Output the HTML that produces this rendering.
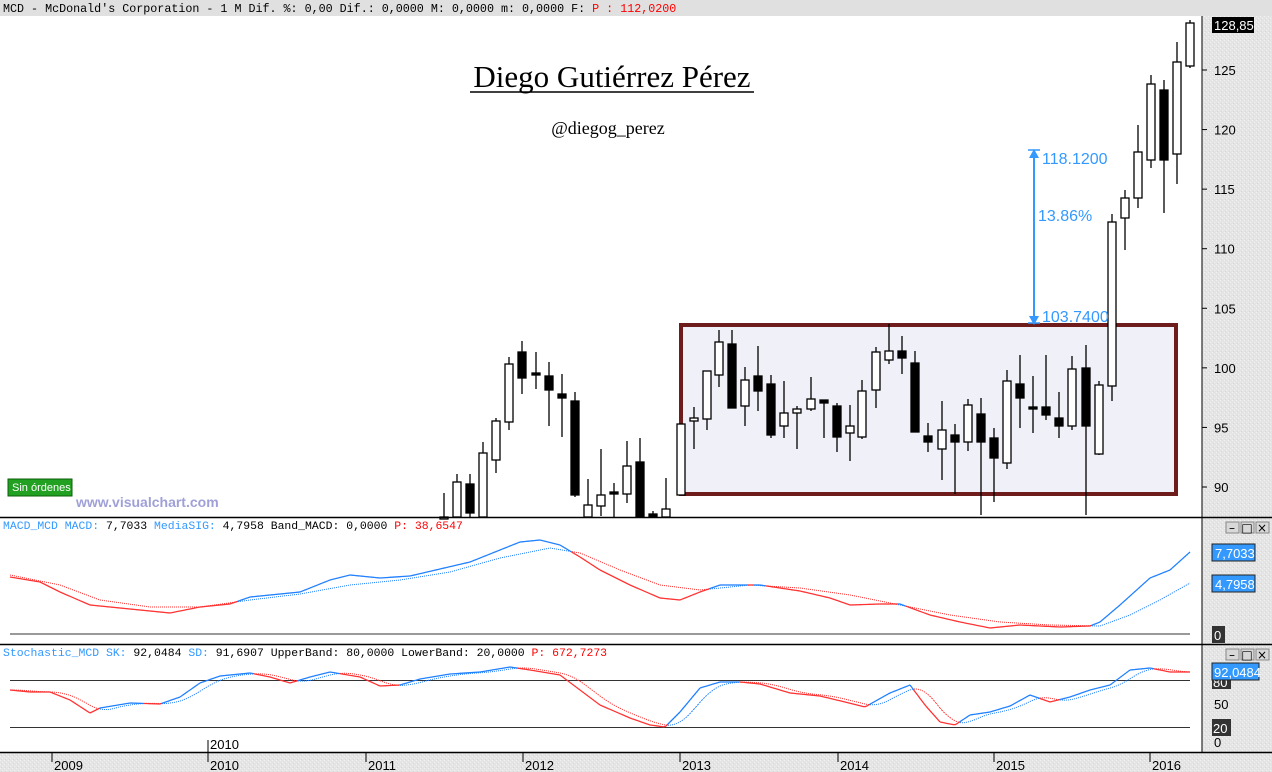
<!DOCTYPE html>
<html><head><meta charset="utf-8"><style>
html,body{margin:0;padding:0;background:#fff;}
svg{display:block;font-family:"Liberation Mono",monospace;}
</style></head><body>
<svg id="s" width="1272" height="772" xmlns="http://www.w3.org/2000/svg">
<defs>
<pattern id="noise" width="4" height="4" patternUnits="userSpaceOnUse"><rect width="4" height="4" fill="#e4e4e4"/><rect width="1" height="1" x="0" y="0" fill="#f2f2f2"/><rect width="1" height="1" x="2" y="2" fill="#f2f2f2"/><rect width="1" height="1" x="1" y="3" fill="#d8d8d8"/></pattern>
</defs>
<rect x="0" y="0" width="1272" height="16" fill="#e0e0e0"/>
<text x="3" y="12" font-size="11.7" fill="#000">MCD - McDonald's Corporation -  1 M Dif. %: 0,00 Dif.: 0,0000 M: 0,0000 m: 0,0000 F:  <tspan fill="#ff0000">P : 112,0200</tspan></text>
<rect x="1202" y="16" width="70" height="736" fill="url(#noise)"/>
<rect x="0" y="752" width="1272" height="20" fill="url(#noise)"/>
<rect x="681" y="325" width="495" height="169" fill="#eff0f8" stroke="#6e1c1c" stroke-width="4"/>
<g id="candles" stroke="#000" stroke-width="1.3"></g>
<text x="612" y="87" font-family="Liberation Serif,serif" font-size="31" text-anchor="middle">Diego Gutiérrez Pérez</text>
<line x1="470" y1="92" x2="754" y2="92" stroke="#000" stroke-width="1.5"/>
<text x="608" y="134" font-family="Liberation Serif,serif" font-size="18" text-anchor="middle">@diegog_perez</text>
<g stroke="#3399ff" fill="#3399ff" stroke-width="2">
<line x1="1034" y1="152" x2="1034" y2="322"/>
<path d="M1029,158 L1034,149 L1039,158 Z" stroke="none"/>
<path d="M1029,316 L1034,325 L1039,316 Z" stroke="none"/>
<line x1="1028" y1="150" x2="1040" y2="150" stroke-width="1.5"/>
<line x1="1028" y1="323" x2="1040" y2="323" stroke-width="1.5"/>
</g>
<g font-family="Liberation Sans,sans-serif" font-size="16" fill="#3399ff">
<text x="1042" y="164">118.1200</text>
<text x="1038" y="221">13.86%</text>
<text x="1042" y="322">103.7400</text>
</g>
<rect x="8" y="479" width="64" height="17" fill="#22a022" stroke="#0a600a"/>
<text x="12" y="491" font-family="Liberation Sans,sans-serif" font-size="11" fill="#fff">Sin órdenes</text>
<text x="76" y="507" font-family="Liberation Sans,sans-serif" font-size="14" font-weight="bold" fill="#a0a0d8">www.visualchart.com</text>
<line x1="1202" y1="16" x2="1202" y2="752" stroke="#000"/>
<g id="pax" font-family="Liberation Sans,sans-serif" font-size="13" fill="#000"></g>
<rect x="1212" y="17" width="42" height="16" fill="#000"/>
<text x="1214" y="30" font-family="Liberation Sans,sans-serif" font-size="13" fill="#fff">128,85</text>
<line x1="0" y1="517.5" x2="1272" y2="517.5" stroke="#000" stroke-width="1.5"/>
<line x1="0" y1="644.5" x2="1272" y2="644.5" stroke="#000" stroke-width="1.5"/>
<line x1="0" y1="752.5" x2="1272" y2="752.5" stroke="#000" stroke-width="1.5"/>
<text x="3" y="529" font-size="11.45" fill="#3399ff">MACD_MCD MACD: <tspan fill="#000">7,7033</tspan> MediaSIG: <tspan fill="#000">4,7958 Band_MACD: 0,0000</tspan> <tspan fill="#ff0000">P: 38,6547</tspan></text>
<line x1="10" y1="634" x2="1190" y2="634" stroke="#333"/>
<g id="macd" fill="none"></g>
<rect x="1212" y="544" width="43" height="17" fill="#3399ff" stroke="#222"/>
<text x="1215" y="558" font-family="Liberation Sans,sans-serif" font-size="13" fill="#fff">7,7033</text>
<rect x="1212" y="575" width="43" height="17" fill="#3399ff" stroke="#222"/>
<text x="1215" y="589" font-family="Liberation Sans,sans-serif" font-size="13" fill="#fff">4,7958</text>
<rect x="1212" y="626" width="13" height="17" fill="#333"/>
<text x="1214" y="640" font-family="Liberation Sans,sans-serif" font-size="13" fill="#fff">0</text>
<text x="3" y="656" font-size="11.45" fill="#3399ff">Stochastic_MCD SK: <tspan fill="#000">92,0484</tspan> SD: <tspan fill="#000">91,6907 UpperBand: 80,0000 LowerBand: 20,0000</tspan> <tspan fill="#ff0000">P: 672,7273</tspan></text>
<line x1="10" y1="680.5" x2="1190" y2="680.5" stroke="#333"/>
<line x1="10" y1="727.5" x2="1190" y2="727.5" stroke="#333"/>
<g id="sto" fill="none"></g>
<rect x="1212" y="673" width="19" height="16" fill="#333"/>
<text x="1213" y="687" font-family="Liberation Sans,sans-serif" font-size="13" fill="#fff">80</text>
<text x="1214" y="709" font-family="Liberation Sans,sans-serif" font-size="13">50</text>
<rect x="1212" y="719" width="19" height="17" fill="#333"/>
<text x="1213" y="733" font-family="Liberation Sans,sans-serif" font-size="13" fill="#fff">20</text>
<text x="1214" y="747" font-family="Liberation Sans,sans-serif" font-size="13">0</text>
<rect x="1212" y="663" width="47" height="17" fill="#3399ff" stroke="#222"/>
<text x="1214" y="677" font-family="Liberation Sans,sans-serif" font-size="13" fill="#fff">92,0484</text>
<g id="tax" font-family="Liberation Sans,sans-serif" font-size="13"></g>
<line x1="208" y1="740" x2="208" y2="752" stroke="#000"/>
<text x="210" y="749" font-family="Liberation Sans,sans-serif" font-size="13">2010</text>
<g id="btn"></g>
</svg>
<script>
var NS="http://www.w3.org/2000/svg";
function el(p,t,a){var e=document.createElementNS(NS,t);for(var k in a)e.setAttribute(k,a[k]);document.getElementById(p).appendChild(e);return e;}
var C=[[444,517,517,493,517,0],[457,482,517,474,517,0],[470,484,513,474,517,1],[483,453,517,442,517,0],[496,421,460,418,473,0],[509,364,422,357,430,0],[522,352,378,341,394,1],[536,373,375,352,389,1],[549,376,390,362,426,1],[562,394,398,374,437,1],[575,401,495,392,497,1],[588,505,517,479,517,0],[601,495,506,449,516,0],[614,492,494,483,517,1],[627,466,494,441,503,0],[640,462,517,438,517,1],[653,514,517,511,517,1],[666,509,517,478,517,0],[681,424,495,424,495,0],[694,418,421,407,449,0],[707,371,419,371,430,0],[719,342,375,330,387,0],[732,344,408,330,408,1],[745,380,406,367,426,0],[758,376,391,346,411,1],[771,384,435,375,438,1],[784,413,426,381,438,0],[797,409,413,406,449,0],[811,399,409,377,411,0],[824,400,403,400,438,1],[837,406,437,403,452,1],[850,426,433,405,461,0],[862,391,437,380,439,0],[876,352,390,347,408,0],[889,351,360,324,364,0],[902,351,358,336,374,1],[915,363,432,351,432,1],[928,436,442,423,452,1],[942,430,449,401,480,0],[955,435,442,424,494,1],[968,405,442,399,451,0],[981,414,442,398,515,1],[994,438,458,428,502,1],[1007,381,463,370,469,0],[1020,384,398,355,428,1],[1033,407,409,376,433,1],[1046,407,415,355,420,1],[1059,418,426,392,438,1],[1072,369,426,356,430,0],[1086,368,426,345,515,1],[1099,385,454,381,455,0],[1112,222,386,214,401,0],[1125,198,218,190,250,0],[1138,152,198,125,208,0],[1151,84,160,75,168,0],[1164,90,160,80,213,1],[1177,62,154,42,184,0],[1190,23,66,20,68,0]];
C.forEach(function(c){
 el("candles","line",{x1:c[0],x2:c[0],y1:c[3],y2:Math.min(c[4],517)});
 var h=Math.max(c[2]-c[1],2);
 el("candles","rect",{x:c[0]-4,y:c[1],width:8,height:h,fill:c[5]?"#000":"#fff"});
});
[125,120,115,110,105,100,95,90].forEach(function(p){var y=70+(125-p)*11.914;
 el("pax","line",{x1:1202,x2:1207,y1:y,y2:y,stroke:"#000"});
 var t=el("pax","text",{x:1214,y:y+5});t.textContent=p;});
var M=[[10,577],[40,582],[60,592],[90,605],[130,609],[170,613],[200,607],[230,604],[250,597],[300,592],[330,580],[350,575],[380,578],[410,576],[440,569],[470,562],[500,550],[520,542],[540,540],[560,545],[580,557],[600,570],[630,585],[660,598],[680,600],[700,592],[720,585],[760,585],[800,591],[830,598],[850,605],[880,604],[900,604],[930,615],[960,622],[990,628],[1020,625],[1060,627],[1090,626],[1100,622],[1120,605],[1150,578],[1170,570],[1190,552]];
var S=[[10,575],[60,585],[100,600],[150,607],[200,607],[250,600],[300,594],[350,585],[400,580],[450,572],[500,558],[550,548],[580,553],[620,570],[660,585],[700,590],[750,585],[800,588],[850,595],[900,605],[950,615],[1000,622],[1050,625],[1100,626],[1130,615],[1160,600],[1190,583]];
function interp(P,x){for(var i=0;i<P.length-1;i++){if(x>=P[i][0]&&x<=P[i+1][0]){var t=(x-P[i][0])/(P[i+1][0]-P[i][0]);return P[i][1]+t*(P[i+1][1]-P[i][1]);}}return P[P.length-1][1];}
function drawPair(g,A,B){
 for(var x=10;x<1190;x+=2){
  var a1=A(x),a2=A(x+2),b1=B(x),b2=B(x+2);
  var col=(a1<b1-0.2)?"#1e7fff":"#ff3030";
  el(g,"line",{x1:x,y1:a1,x2:x+2,y2:a2,stroke:col,"stroke-width":1.3});
  el(g,"line",{x1:x,y1:b1,x2:x+2,y2:b2,stroke:col,"stroke-width":1,"stroke-dasharray":"1 1"});
 }}
drawPair("macd",function(x){return interp(M,x)},function(x){return interp(S,x)});
var K=[[10,690],[30,692],[50,692],[70,700],[90,713],[100,708],[130,703],[160,704],[180,697],[200,683],[220,676],[250,673],[270,677],[290,683],[310,677],[330,672],[360,677],[380,686],[400,685],[420,679],[450,674],[480,672],[510,667],[530,670],[560,675],[580,690],[600,705],[630,718],[650,725],[665,727],[680,712],[700,688],[720,682],[740,682],[760,684],[790,693],[820,696],[845,702],[865,707],[890,693],[910,685],[925,705],[940,722],[955,725],[970,715],[990,712],[1010,706],[1030,695],[1050,702],[1070,697],[1090,690],[1110,685],[1130,670],[1150,668],[1170,672],[1190,672]];
function sd(x){var s=0,n=0;for(var d=0;d<=24;d+=2){s+=interp(K,Math.max(10,x-d));n++;}return s/n;}
drawPair("sto",function(x){return interp(K,x)},sd);
[[52,"2009"],[208,"2010"],[366,"2011"],[523,"2012"],[680,"2013"],[838,"2014"],[994,"2015"],[1150,"2016"]].forEach(function(y){
 el("tax","line",{x1:y[0],x2:y[0],y1:752,y2:762,stroke:"#000"});
 var t=el("tax","text",{x:y[0]+2,y:770});t.textContent=y[1];});
[522,649].forEach(function(y){[1232,1247,1262].forEach(function(x,i){
 el("btn","rect",{x:x-6,y:y,width:13,height:11,fill:"#d8d8d8",stroke:"#888"});
 var s=["\u2013","\u25a1","\u00d7"][i];var t=el("btn","text",{x:x,y:y+10,"font-size":12,"text-anchor":"middle","font-family":"DejaVu Sans,sans-serif"});t.textContent=s;});});
</script>
</body></html>
